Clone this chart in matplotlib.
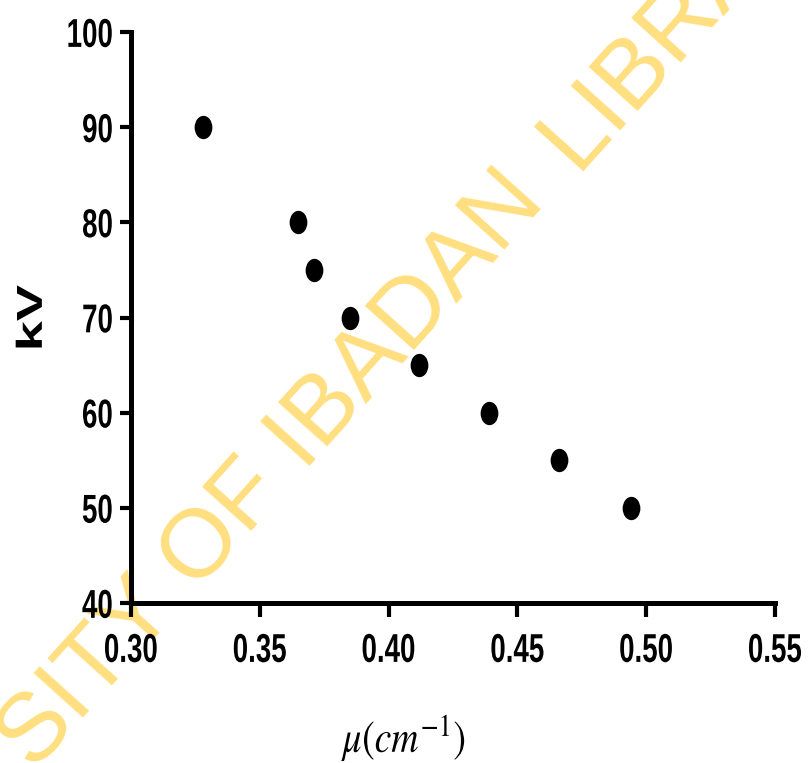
import matplotlib
matplotlib.use("Agg")
import matplotlib.pyplot as plt
from matplotlib.markers import MarkerStyle
from matplotlib.transforms import Affine2D
from matplotlib.ticker import FormatStrFormatter
from matplotlib.patheffects import AbstractPathEffect

# Attenuation coefficient vs tube voltage
mu = [0.328, 0.365, 0.371, 0.385, 0.412, 0.439, 0.466, 0.494]
kv = [90, 80, 75, 70, 65, 60, 55, 50]

x_ticks = [0.30, 0.35, 0.40, 0.45, 0.50, 0.55]
y_ticks = [40, 50, 60, 70, 80, 90, 100]

W, H = 811, 763


class Stretch(AbstractPathEffect):
    """Scale glyph outlines about an anchor inside the text's own box."""

    def __init__(self, sx=1.0, sy=1.0, xanchor=0.5, yanchor=None):
        super().__init__()
        self.sx, self.sy = sx, sy
        self.xanchor, self.yanchor = xanchor, yanchor

    def draw_path(self, renderer, gc, tpath, affine, rgbFace=None):
        ext = tpath.get_extents()
        x0 = ext.x0 + self.xanchor * ext.width
        y0 = 0 if self.yanchor is None else ext.y0 + self.yanchor * ext.height
        t = (Affine2D().translate(-x0, -y0).scale(self.sx, self.sy)
             .translate(x0, y0))
        renderer.draw_path(gc, tpath, t + affine, rgbFace)


plt.rcParams['mathtext.fontset'] = 'stix'
sans = ['Liberation Sans', 'DejaVu Sans']

fig = plt.figure(figsize=(W / 100, H / 100), dpi=100)
ax = fig.add_axes([0.1615, 0.2097, 0.7941, 0.7483])
ax.patch.set_visible(False)


def px(x, y):
    return x / W, 1 - y / H


# watermark behind the plot, split at the last word
wm = dict(rotation=48, rotation_mode='anchor', va='baseline', fontsize=70,
          color='#FFDF80', family=sans, zorder=-5)
fig.text(*px(576, 171), 'LIBRARY', ha='left', **wm)
fig.text(*px(547, 203), 'UNIVERSITY OF IBADAN', ha='right', **wm)

marker = MarkerStyle('o', transform=Affine2D().scale(0.76, 1.0))
ax.plot(mu, kv, linestyle='none', marker=marker, markersize=16.8,
        color='black', markeredgewidth=0, zorder=3, clip_on=False)

ax.set_xlim(0.30, 0.55)
ax.set_ylim(40, 100)
ax.set_xticks(x_ticks)
ax.set_yticks(y_ticks)
ax.xaxis.set_major_formatter(FormatStrFormatter('%.2f'))

for side in ('top', 'right'):
    ax.spines[side].set_visible(False)
for side in ('left', 'bottom'):
    ax.spines[side].set_linewidth(3.6)
    ax.spines[side].set_capstyle('projecting')

# tall, narrow bold tick numbers
ax.tick_params(axis='x', length=10, width=3, pad=11, labelsize=21)
ax.tick_params(axis='y', length=8, width=3, pad=5, labelsize=21)
for lab in ax.get_xticklabels():
    lab.set_family(sans)
    lab.set_fontweight('bold')
    lab.set_path_effects([Stretch(0.95, 1.38, 0.5, 1.0)])
for lab in ax.get_yticklabels():
    lab.set_family(sans)
    lab.set_fontweight('bold')
    lab.set_path_effects([Stretch(0.95, 1.38, 1.0, 0.5)])

ylab = ax.set_ylabel('kV', fontsize=26, fontweight='bold', family=sans)
ylab.set_path_effects([Stretch(1.5, 1.0, 0.5)])
ax.yaxis.set_label_coords(-0.126, 0.5)

xlab = ax.set_xlabel(r'$\mu(cm^{-1})$', fontsize=27)
xlab.set_path_effects([Stretch(1.0, 1.2, 0.5)])
ax.xaxis.set_label_coords(0.4255, -0.2005)

fig.savefig('out.png', dpi=100)
